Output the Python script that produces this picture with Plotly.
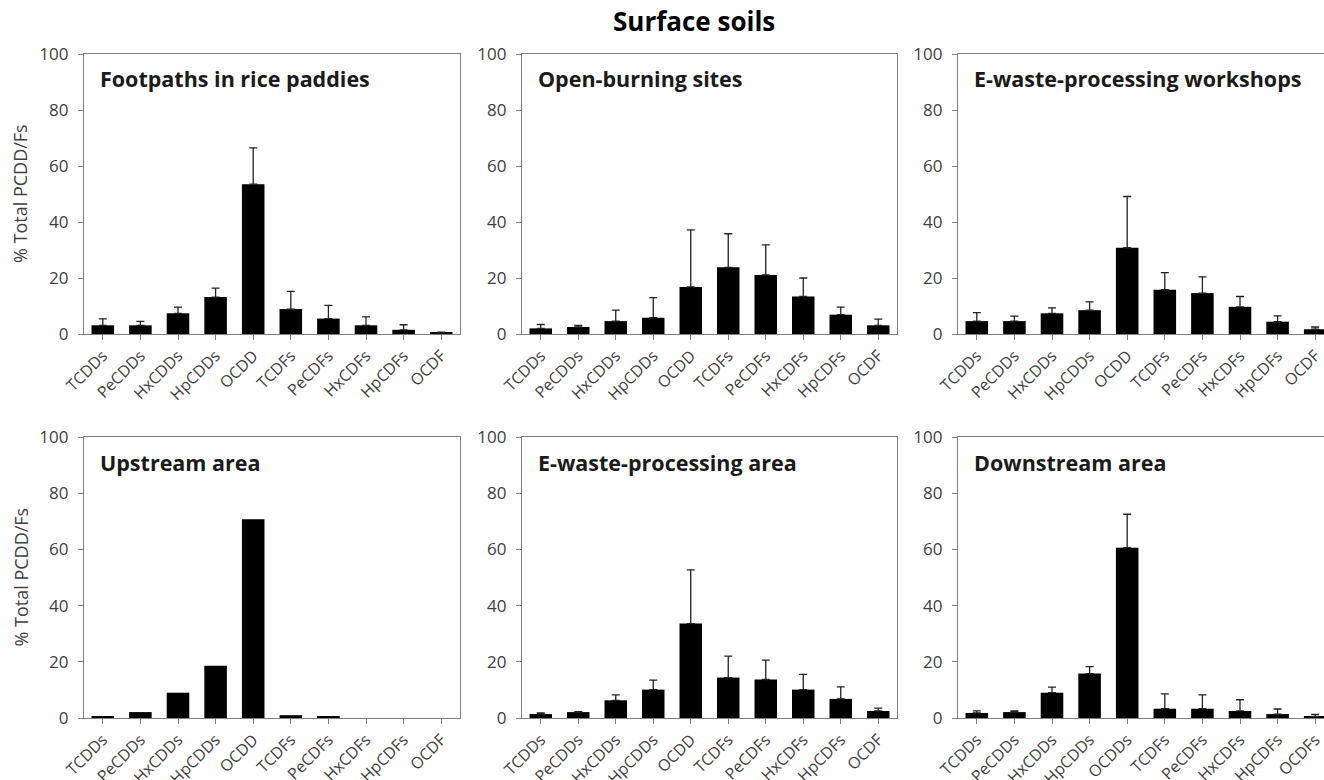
import plotly.graph_objects as go

# Homologue groups on the x axis
groups = ["TCDDs", "PeCDDs", "HxCDDs", "HpCDDs", "OCDD",
          "TCDFs", "PeCDFs", "HxCDFs", "HpCDFs", "OCDF"]
groups_downstream = ["TCDDs", "PeCDDs", "HxCDDs", "HpCDDs", "OCDDs",
                     "TCDFs", "PeCDFs", "HxCDFs", "HpCDFs", "OCDFs"]

# Mean share of total PCDD/Fs (%) and standard deviation per site type
footpaths_mean = [3.1, 3.1, 7.4, 13.2, 53.5, 8.9, 5.5, 3.1, 1.5, 0.4]
footpaths_sd = [2.3, 1.4, 2.2, 3.2, 13.0, 6.3, 4.7, 3.0, 1.8, 0.3]

openburning_mean = [2.0, 2.5, 4.6, 5.8, 16.8, 23.8, 21.1, 13.4, 6.9, 3.1]
openburning_sd = [1.4, 0.6, 3.9, 7.2, 20.4, 12.0, 10.7, 6.6, 2.7, 2.2]

workshops_mean = [4.6, 4.6, 7.4, 8.5, 30.8, 15.8, 14.6, 9.7, 4.4, 1.7]
workshops_sd = [3.0, 1.8, 1.9, 3.0, 18.3, 6.1, 5.8, 3.7, 2.1, 0.8]

upstream_mean = [0.6, 2.1, 9.0, 18.6, 70.7, 1.0, 0.6, 0.0, 0.0, 0.0]

ewaste_area_mean = [1.4, 2.1, 6.3, 10.1, 33.6, 14.4, 13.7, 10.1, 6.8, 2.5]
ewaste_area_sd = [0.4, 0.2, 1.9, 3.4, 19.1, 7.6, 6.9, 5.4, 4.3, 1.0]

downstream_mean = [1.8, 2.1, 9.0, 15.8, 60.6, 3.3, 3.3, 2.5, 1.4, 0.6]
downstream_sd = [0.7, 0.4, 2.0, 2.5, 11.9, 5.3, 4.9, 4.0, 1.8, 0.7]

panel_titles = ["Footpaths in rice paddies", "Open-burning sites",
                "E-waste-processing workshops", "Upstream area",
                "E-waste-processing area", "Downstream area"]
y_title = "% Total PCDD/Fs"
main_title = "Surface soils"
y_ticks = [0, 20, 40, 60, 80, 100]

W, H = 1324, 780
FONT = "Open Sans"
AXIS_COLOR = "#7f7f7f"
TICK_TEXT = "#404040"

# Panel geometry in pixels: (left, right) per column, (top, bottom) per row
cols_px = [(84, 460), (522, 897), (958, 1324)]
rows_px = [(54, 334), (437, 718)]

panels = [
    (groups, footpaths_mean, footpaths_sd),
    (groups, openburning_mean, openburning_sd),
    (groups, workshops_mean, workshops_sd),
    (groups, upstream_mean, None),
    (groups, ewaste_area_mean, ewaste_area_sd),
    (groups_downstream, downstream_mean, downstream_sd),
]

fig = go.Figure()
layout_axes = {}
annotations = []

for i, (cats, mean, sd) in enumerate(panels):
    r, c = divmod(i, 3)
    n = "" if i == 0 else str(i + 1)
    trace = go.Bar(
        x=cats, y=mean, width=0.6,
        marker=dict(color="black", line=dict(width=0)),
        xaxis="x" + n, yaxis="y" + n, showlegend=False,
    )
    if sd is not None:
        trace.error_y = dict(type="data", symmetric=False, array=sd,
                             arrayminus=[0] * len(sd), color="#222222",
                             thickness=1.3, width=4)
    fig.add_trace(trace)

    left, right = cols_px[c]
    top, bottom = rows_px[r]
    # last column runs to the page edge, so its right part is clipped
    xr_end = 9.5 if c < 2 else -0.5 + (right - left) / ((460 - 84) / 10)
    layout_axes["xaxis" + n] = dict(
        domain=[left / W, right / W], anchor="y" + n, automargin=False,
        type="category", categoryorder="array", categoryarray=cats,
        range=[-0.5, xr_end], showline=True, linecolor=AXIS_COLOR,
        linewidth=1.3, mirror=True, ticks="outside", ticklen=5,
        tickcolor=AXIS_COLOR, tickangle=-45, showgrid=False,
        tickfont=dict(family=FONT, size=16, color=TICK_TEXT), fixedrange=True,
    )
    layout_axes["yaxis" + n] = dict(
        domain=[1 - bottom / H, 1 - top / H], anchor="x" + n,
        automargin=False, range=[0, 100], tickvals=y_ticks, showline=True,
        linecolor=AXIS_COLOR, linewidth=1.3, mirror=(c < 2),
        ticks="outside", ticklen=5, tickcolor=AXIS_COLOR, showgrid=False,
        ticklabelstandoff=6, zeroline=False,
        tickfont=dict(family=FONT, size=17, color=TICK_TEXT),
        fixedrange=True,
    )
    annotations.append(dict(
        text="<b>%s</b>" % panel_titles[i], xref="paper", yref="paper",
        x=(left + 14) / W, y=1 - (top + 25) / H, xanchor="left",
        yanchor="middle", showarrow=False,
        font=dict(family=FONT, size=21.5, color="#1a1a1a"),
    ))

for top, bottom in rows_px:
    annotations.append(dict(
        text=y_title, xref="paper", yref="paper", x=20 / W,
        y=1 - (top + bottom) / 2 / H, textangle=-90, xanchor="center",
        yanchor="middle", showarrow=False,
        font=dict(family=FONT, size=18, color=TICK_TEXT),
    ))

annotations.append(dict(
    text="<b>%s</b>" % main_title, xref="paper", yref="paper",
    x=694 / W, y=1 - 21 / H, xanchor="center", yanchor="middle",
    showarrow=False, font=dict(family=FONT, size=26, color="black"),
))

fig.update_layout(
    width=W, height=H, margin=dict(l=0, r=0, t=0, b=0),
    paper_bgcolor="white", plot_bgcolor="white",
    annotations=annotations, bargap=0.4, **layout_axes,
)

fig.write_html("out.html", config={"displayModeBar": False})
